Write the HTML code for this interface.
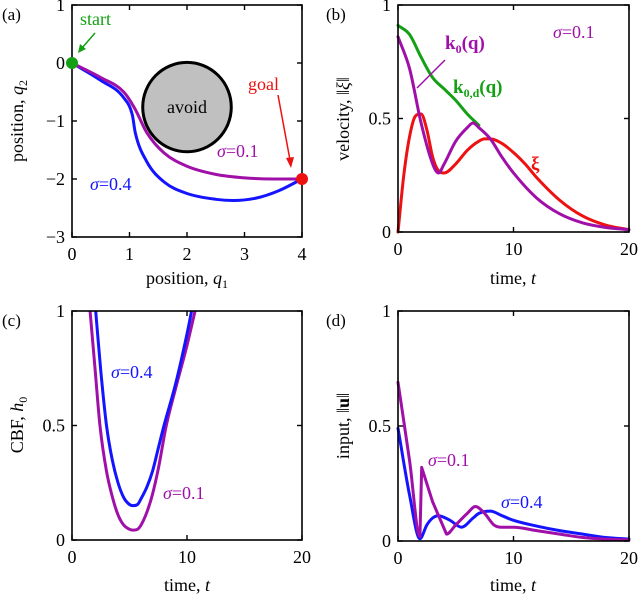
<!DOCTYPE html>
<html><head><meta charset="utf-8"><style>
html,body{margin:0;padding:0;background:#fff}
svg{display:block;font-family:"Liberation Serif",serif}
</style></head><body>
<svg id="fig" width="640" height="595" viewBox="0 0 640 595" xmlns="http://www.w3.org/2000/svg"></svg>
<script>
// ---- data ----
const pathA01_q1 = [0,0.5,0.9,1.1,1.3,1.6,2,2.5,3,3.5,4];
const pathA01_q2 = [0,-0.25,-0.5,-0.8,-1.2,-1.55,-1.78,-1.92,-1.98,-2.0,-2.0];
const pathA04_q1 = [0,0.5,0.9,1.05,1.1,1.3,1.6,2,2.5,2.8,3.2,3.6,4];
const pathA04_q2 = [0,-0.3,-0.6,-0.9,-1.2,-1.7,-2.05,-2.25,-2.35,-2.37,-2.33,-2.2,-2.0];
const obstacle = {q1:2, q2:-0.76, r:0.77};
const tB_green = [0,1,2,3,4,5,6,7];
const vB_green = [0.91,0.87,0.77,0.68,0.63,0.58,0.52,0.47];
const tB_purple = [0,1,2,3,3.5,4,5,6,6.5,7,8,9,10,12,14,16,18,20];
const vB_purple = [0.86,0.72,0.48,0.3,0.26,0.3,0.4,0.46,0.48,0.46,0.41,0.33,0.26,0.15,0.08,0.04,0.02,0.01];
const tB_red = [0,0.5,1,1.5,2,2.5,3,3.5,4,5,6,7,7.5,8,9,10,11,12,14,16,18,20];
const vB_red = [0,0.25,0.42,0.51,0.52,0.45,0.33,0.27,0.26,0.3,0.36,0.4,0.41,0.41,0.39,0.35,0.3,0.24,0.14,0.07,0.03,0.01];
const tC_purple = [1.57,2,2.43,3,3.5,4,4.5,5,5.3,5.7,6,6.5,7,7.5,8.2,9,10,10.7];
const hC_purple = [1,0.75,0.5,0.3,0.19,0.11,0.065,0.047,0.043,0.047,0.065,0.12,0.2,0.31,0.5,0.66,0.85,1];
const tC_blue = [2.06,2.5,3,3.5,4,4.5,5,5.3,5.7,6,6.5,7,7.5,8,9,10,10.4];
const hC_blue = [1,0.74,0.5,0.35,0.25,0.185,0.155,0.15,0.155,0.18,0.23,0.3,0.4,0.5,0.68,0.9,1];
const tD_purple = [0,1,1.9,2.05,3,4.2,5,6,6.7,7.5,8.3,9,10,12,14,16,18,20];
const uD_purple = [0.69,0.35,0.02,0.32,0.17,0.03,0.07,0.12,0.15,0.12,0.07,0.06,0.06,0.045,0.03,0.015,0.008,0.005];
const tD_blue = [0,1,1.9,2.5,3,3.5,4.5,5.5,6.5,7,8,9,10,12,14,16,18,20];
const uD_blue = [0.49,0.2,0.01,0.07,0.1,0.11,0.09,0.06,0.1,0.12,0.13,0.11,0.09,0.065,0.045,0.03,0.015,0.008];
const ticksA_x = [0,1,2,3,4];
const ticksA_y = [1,0,-1,-2,-3];
const ticksT = [0,10,20];
const ticksV = [0,0.5,1];

const NS = "http://www.w3.org/2000/svg";
const svg = document.getElementById('fig');
const C = {blue:"#1414ff", purple:"#a010a8", red:"#ee1111", green:"#14a014"};
function el(tag, attrs, parent){const e=document.createElementNS(NS,tag);for(const k in attrs)e.setAttribute(k,attrs[k]);(parent||svg).appendChild(e);return e;}
function txt(x,y,s,attrs,name){const t=el('text',Object.assign({x:x,y:y},attrs||{}));t.innerHTML=s;


return t;}
function scale(d0,d1,p0,p1){return v=>p0+(v-d0)*(p1-p0)/(d1-d0);}
// monotone cubic (Fritsch-Carlson) in pixel space, x increasing
function smoothPath(xs,ys,sx,sy,lin){
  const X=xs.map(sx),Y=ys.map(sy),n=X.length;
  const d=[],m=new Array(n);
  for(let i=0;i<n-1;i++)d.push((Y[i+1]-Y[i])/(X[i+1]-X[i]));
  m[0]=d[0];m[n-1]=d[n-2];
  for(let i=1;i<n-1;i++){m[i]=(d[i-1]*d[i]<=0)?0:(d[i-1]+d[i])/2;}
  for(let i=0;i<n-1;i++){
    if(d[i]===0){m[i]=0;m[i+1]=0;continue;}
    const a=m[i]/d[i],b=m[i+1]/d[i],s=a*a+b*b;
    if(s>9){const t=3/Math.sqrt(s);m[i]=t*a*d[i];m[i+1]=t*b*d[i];}
  }
  let p="M"+X[0].toFixed(2)+","+Y[0].toFixed(2);
  for(let i=0;i<n-1;i++){
    if(lin&&lin.includes(i)){p+=" L"+X[i+1].toFixed(2)+","+Y[i+1].toFixed(2);continue;}
    const h=(X[i+1]-X[i])/3;
    p+=" C"+(X[i]+h).toFixed(2)+","+(Y[i]+m[i]*h).toFixed(2)+" "+(X[i+1]-h).toFixed(2)+","+(Y[i+1]-m[i+1]*h).toFixed(2)+" "+X[i+1].toFixed(2)+","+Y[i+1].toFixed(2);
  }
  return p;
}
function axes(g,box,xt,yt,sx,sy,xfmt,yfmt,prefix){
  el('rect',{x:box[0],y:box[1],width:box[2]-box[0],height:box[3]-box[1],fill:"none",stroke:"#000","stroke-width":1.6},g);
  xt.forEach(v=>{const x=sx(v);
    el('line',{x1:x,y1:box[3],x2:x,y2:box[3]-5,stroke:"#000","stroke-width":1.4},g);
    el('line',{x1:x,y1:box[1],x2:x,y2:box[1]+5,stroke:"#000","stroke-width":1.4},g);
    txt(x,box[3]+23,xfmt(v),{"text-anchor":"middle","font-size":18},prefix+'-x-tick-label');});
  yt.forEach(v=>{const y=sy(v);
    el('line',{x1:box[0],y1:y,x2:box[0]+5,y2:y,stroke:"#000","stroke-width":1.4},g);
    el('line',{x1:box[2],y1:y,x2:box[2]-5,y2:y,stroke:"#000","stroke-width":1.4},g);
    txt(box[0]-7,y+6,yfmt(v),{"text-anchor":"end","font-size":18},prefix+'-y-tick-label');});
}
function line(g,xs,ys,sx,sy,color,name,lin){const p=el('path',{d:smoothPath(xs,ys,sx,sy,lin),fill:"none",stroke:color,"stroke-width":3,"stroke-linejoin":"round","stroke-linecap":"round"},g);

}
const minus = v=> v<0 ? "\u2212"+(-v) : ""+v;
const clip=(id,box)=>{const cp=el('clipPath',{id:id});el('rect',{x:box[0],y:box[1],width:box[2]-box[0],height:box[3]-box[1]},cp);};

// ---- panel a ----
{const box=[72,5,302,237];const sx=scale(0,4,72,302),sy=scale(1,-3,5,237);
const g=el('g',{});
const ci=el('ellipse',{cx:sx(obstacle.q1),cy:sy(obstacle.q2),rx:obstacle.r*57.5,ry:obstacle.r*58,fill:"#c0c0c0",stroke:"#000","stroke-width":3},g);

txt(sx(obstacle.q1),sy(obstacle.q2)+6,"avoid",{"text-anchor":"middle","font-size":18},'avoid-label');
line(g,pathA04_q1,pathA04_q2,sx,sy,C.blue,'trajectory-sigma-0-4');
line(g,pathA01_q1,pathA01_q2,sx,sy,C.purple,'trajectory-sigma-0-1');
axes(g,box,ticksA_x,ticksA_y,sx,sy,String,minus,'panel-a');
const s=el('circle',{cx:sx(0),cy:sy(0),r:6,fill:C.green},g);
const e=el('circle',{cx:sx(4),cy:sy(-2),r:6,fill:C.red},g);
txt(80,25,"start",{"font-size":18,fill:C.green},'start-label');
el('line',{x1:95,y1:33,x2:82,y2:48,stroke:C.green,"stroke-width":1.5},g);
el('path',{d:"M78,53 L80,44 L86,49 Z",fill:C.green},g);
txt(248,90,"goal",{"font-size":18,fill:C.red},'goal-label');
el('line',{x1:278,y1:95,x2:290,y2:160,stroke:C.red,"stroke-width":1.5},g);
el('path',{d:"M291,168 L286,158 L294,157 Z",fill:C.red},g);
txt(217,157,"<tspan font-style='italic'>σ</tspan>=0.1",{"font-size":18,fill:C.purple},'sigma-0-1-label-a');
txt(90,190,"<tspan font-style='italic'>σ</tspan>=0.4",{"font-size":18,fill:C.blue},'sigma-0-4-label-a');
txt(2,20,"(a)",{"font-size":17},'panel-a-label');
txt(187,284,"position, <tspan font-style='italic'>q</tspan><tspan font-size='12' dy='4'>1</tspan>",{"text-anchor":"middle","font-size":18},'x-axis-title-a');
txt(0,0,"position, <tspan font-style='italic'>q</tspan><tspan font-size='12' dy='4'>2</tspan>",{"text-anchor":"middle","font-size":18,transform:"translate(23,121) rotate(-90)"},'y-axis-title-a');
}
// ---- panel b ----
{const box=[398,5,629,232];const sx=scale(0,20,398,629),sy=scale(0,1,232,5);
const g=el('g',{});
line(g,tB_green,vB_green,sx,sy,C.green,'k0d-line');
line(g,tB_red,vB_red,sx,sy,C.red,'xi-line');
line(g,tB_purple,vB_purple,sx,sy,C.purple,'k0-line');
axes(g,box,ticksT,ticksV,sx,sy,String,String,'panel-b');
el('line',{x1:417,y1:88,x2:445,y2:60,stroke:C.purple,"stroke-width":1.5},g);
txt(445,49,"k<tspan font-size='12' dy='4'>0</tspan><tspan dy='-4'>(q)</tspan>",{"font-size":19,"font-weight":"bold",fill:C.purple},'k0-label');
txt(453,93,"k<tspan font-size='12' dy='4'>0,d</tspan><tspan dy='-4'>(q)</tspan>",{"font-size":19,"font-weight":"bold",fill:C.green},'k0d-label');
txt(531,170,"ξ",{"font-size":19,"font-weight":"bold",fill:C.red},'xi-label');
txt(553,38,"<tspan font-style='italic'>σ</tspan>=0.1",{"font-size":18,fill:C.purple},'sigma-label-b');
txt(326,20,"(b)",{"font-size":17},'panel-b-label');
txt(513,284,"time, <tspan font-style='italic'>t</tspan>",{"text-anchor":"middle","font-size":18},'x-axis-title-b');
txt(0,0,"velocity, ‖<tspan font-style='italic'>ξ</tspan>‖",{"text-anchor":"middle","font-size":18,transform:"translate(349,119) rotate(-90)"},'y-axis-title-b');
}
// ---- panel c ----
{const box=[72,311,302,540];const sx=scale(0,20,72,302),sy=scale(0,1,540,311);
clip('clipc',box);
const g=el('g',{});
const gc=el('g',{"clip-path":"url(#clipc)"},g);
line(gc,tC_purple,hC_purple,sx,sy,C.purple,'cbf-sigma-0-1');
line(gc,tC_blue,hC_blue,sx,sy,C.blue,'cbf-sigma-0-4');
axes(g,box,ticksT,ticksV,sx,sy,String,String,'panel-c');
txt(111,378,"<tspan font-style='italic'>σ</tspan>=0.4",{"font-size":18,fill:C.blue},'sigma-0-4-label-c');
txt(163,499,"<tspan font-style='italic'>σ</tspan>=0.1",{"font-size":18,fill:C.purple},'sigma-0-1-label-c');
txt(2,326,"(c)",{"font-size":17},'panel-c-label');
txt(187,591,"time, <tspan font-style='italic'>t</tspan>",{"text-anchor":"middle","font-size":18},'x-axis-title-c');
txt(0,0,"CBF, <tspan font-style='italic'>h</tspan><tspan font-size='12' dy='4'>0</tspan>",{"text-anchor":"middle","font-size":18,transform:"translate(23,425) rotate(-90)"},'y-axis-title-c');
}
// ---- panel d ----
{const box=[398,311,629,541];const sx=scale(0,20,398,629),sy=scale(0,1,541,311);
const g=el('g',{});
line(g,tD_blue,uD_blue,sx,sy,C.blue,'input-sigma-0-4');
line(g,tD_purple,uD_purple,sx,sy,C.purple,'input-sigma-0-1',[2,3,4]);
axes(g,box,ticksT,ticksV,sx,sy,String,String,'panel-d');
txt(428,466,"<tspan font-style='italic'>σ</tspan>=0.1",{"font-size":18,fill:C.purple},'sigma-0-1-label-d');
txt(501,508,"<tspan font-style='italic'>σ</tspan>=0.4",{"font-size":18,fill:C.blue},'sigma-0-4-label-d');
txt(326,326,"(d)",{"font-size":17},'panel-d-label');
txt(513,591,"time, <tspan font-style='italic'>t</tspan>",{"text-anchor":"middle","font-size":18},'x-axis-title-d');
txt(0,0,"input, ‖<tspan font-weight='bold'>u</tspan>‖",{"text-anchor":"middle","font-size":18,transform:"translate(349,426) rotate(-90)"},'y-axis-title-d');
}
</script>
</body></html>
